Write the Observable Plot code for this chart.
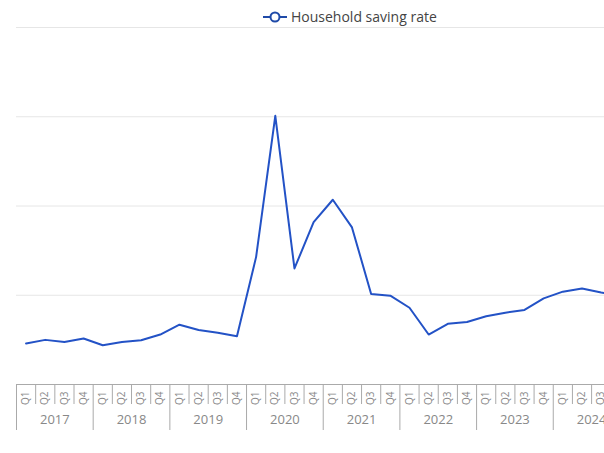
<!DOCTYPE html>
<html><head><meta charset="utf-8">
<script src="https://cdn.jsdelivr.net/npm/d3@7"></script>
<script src="https://cdn.jsdelivr.net/npm/@observablehq/plot@0.6"></script>
<style>
body{margin:0;background:#fff;font-family:"Open Sans",sans-serif;}
#wrap{position:relative;width:604px;height:453px;overflow:hidden;}
#legend{position:absolute;top:0;left:0;width:604px;height:26px;z-index:2;}
#chart{position:absolute;top:20px;left:0;z-index:1;}
</style></head><body>
<div id="wrap"><div id="legend"></div><div id="chart"></div></div>
<script>
const seriesName = "Household saving rate";
const years = [2017, 2018, 2019, 2020, 2021, 2022, 2023, 2024];
const quarters = ["Q1", "Q2", "Q3", "Q4"];
const values = [
  4.6, 5.0, 4.75, 5.15,
  4.4, 4.75, 4.95, 5.6,
  6.7, 6.1, 5.8, 5.4,
  14.3, 30.1, 13.0, 18.2,
  20.7, 17.6, 10.15, 9.95,
  8.6, 5.6, 6.8, 7.0,
  7.65, 8.05, 8.35, 9.65,
  10.4, 10.75, 10.3, 9.9
];
const yTicks = [0, 10, 20, 30, 40];

const lineColor = "#2352c6";

// legend
const lg = d3.select("#legend").append("svg").attr("width", 604).attr("height", 26).style("display", "block");
lg.append("line").attr("x1", 263).attr("x2", 287).attr("y1", 17).attr("y2", 17)
  .attr("stroke", "#1f4aa8").attr("stroke-width", 2);
lg.append("circle").attr("cx", 275).attr("cy", 17).attr("r", 4.5)
  .attr("fill", "#fff").attr("stroke", "#1f4aa8").attr("stroke-width", 2);
lg.append("text").attr("x", 291).attr("y", 22).text(seriesName)
  .attr("font-family", "Open Sans").attr("font-size", 14).attr("fill", "#444");

const data = values.map((v, i) => ({i, year: years[Math.floor(i / 4)], q: quarters[i % 4], value: v}));
const idx = d3.range(years.length * 4);
const qSeps = idx.filter(i => i % 4 !== 0).map(i => i - 0.5);
const ySeps = d3.range(years.length + 1).map(k => 4 * k - 0.5);
const yearCenters = years.map((y, k) => 4 * k + 1.5);

const chart = Plot.plot({
  width: 604, height: 433,
  marginTop: 7, marginBottom: 69, marginLeft: 16, marginRight: 0,
  x: {domain: [-0.5, idx.length - 0.5], range: [16, 16 + idx.length * 19.17], axis: null, label: null},
  y: {domain: [0, 40], axis: null, label: null},
  style: {fontFamily: "Open Sans", color: "#777", overflow: "hidden", background: "transparent"},
  marks: [
    Plot.ruleY(yTicks.filter(t => t > 0), {stroke: "#e6e6e6"}),
    Plot.ruleY([0], {stroke: "#aaa"}),
    Plot.axisX(qSeps, {tickSize: 20, tickFormat: () => "", stroke: "#aaa", label: null}),
    Plot.axisX(ySeps, {tickSize: 46, tickFormat: () => "", stroke: "#aaa", label: null}),
    Plot.axisX(idx, {tickSize: 0, tickPadding: 7, tickRotate: -90, tickFormat: i => quarters[i % 4], fontSize: 10, fill: "#888", label: null}),
    Plot.axisX(yearCenters, {tickSize: 0, tickPadding: 30, tickFormat: c => String(years[(c - 1.5) / 4]), fontSize: 13, fill: "#888", label: null}),
    Plot.line(data, {x: "i", y: "value", stroke: lineColor, strokeWidth: 2})
  ]
});
document.getElementById("chart").append(chart);
</script>
</body></html>
